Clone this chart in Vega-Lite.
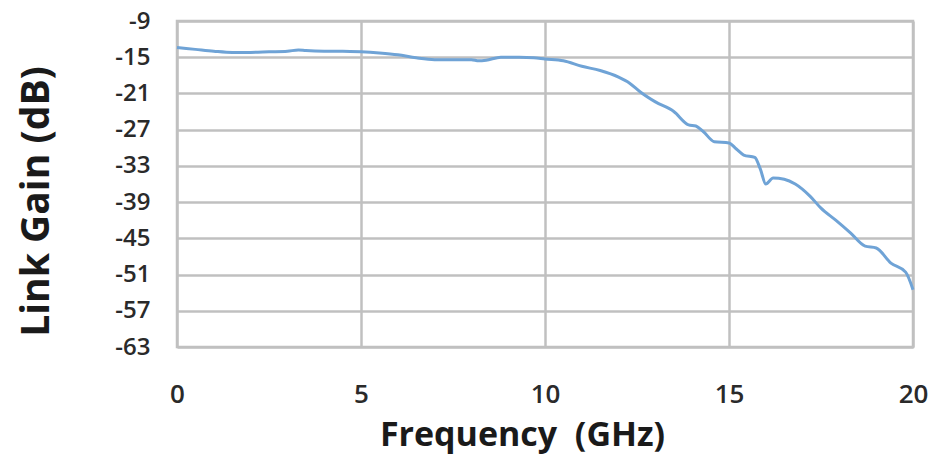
{
  "$schema": "https://vega.github.io/schema/vega-lite/v6.json",
  "autosize": "none",
  "width": 736,
  "height": 326,
  "padding": {"left": 177, "top": 21, "right": 26, "bottom": 113},
  "background": "white",
  "config": {
    "view": {"stroke": "#c0c0c0", "strokeWidth": 2.5},
    "font": "Open Sans"
  },
  "data": {
    "values": [
      {"f": 0, "g": -13.4}, {"f": 0.5, "g": -13.7}, {"f": 1, "g": -14.0}, {"f": 1.5, "g": -14.2},
      {"f": 2, "g": -14.2}, {"f": 2.5, "g": -14.1}, {"f": 3, "g": -14.0}, {"f": 3.3, "g": -13.8},
      {"f": 3.5, "g": -13.9}, {"f": 4, "g": -14.0}, {"f": 4.5, "g": -14.0}, {"f": 5, "g": -14.1},
      {"f": 5.5, "g": -14.3}, {"f": 6, "g": -14.6}, {"f": 6.5, "g": -15.1}, {"f": 7, "g": -15.4},
      {"f": 7.5, "g": -15.4}, {"f": 8, "g": -15.4}, {"f": 8.2, "g": -15.6}, {"f": 8.4, "g": -15.5},
      {"f": 8.8, "g": -15.0}, {"f": 9.3, "g": -15.0}, {"f": 9.7, "g": -15.1}, {"f": 10, "g": -15.3},
      {"f": 10.5, "g": -15.6}, {"f": 11, "g": -16.5}, {"f": 11.5, "g": -17.2}, {"f": 12, "g": -18.3},
      {"f": 12.3, "g": -19.3}, {"f": 12.6, "g": -20.8}, {"f": 13, "g": -22.4}, {"f": 13.5, "g": -24.0},
      {"f": 13.9, "g": -26.2}, {"f": 14.1, "g": -26.4}, {"f": 14.3, "g": -27.3}, {"f": 14.6, "g": -29.0},
      {"f": 15, "g": -29.2}, {"f": 15.2, "g": -30.2}, {"f": 15.4, "g": -31.2}, {"f": 15.7, "g": -31.6},
      {"f": 15.85, "g": -33.5}, {"f": 16.0, "g": -36.0}, {"f": 16.2, "g": -35.0}, {"f": 16.5, "g": -35.2},
      {"f": 16.8, "g": -36.0}, {"f": 17.2, "g": -38.0}, {"f": 17.5, "g": -40.0}, {"f": 17.9, "g": -42.0},
      {"f": 18.3, "g": -44.1}, {"f": 18.7, "g": -46.3}, {"f": 19.0, "g": -46.6}, {"f": 19.4, "g": -49.1},
      {"f": 19.8, "g": -50.6}, {"f": 20, "g": -53.5}
    ]
  },
  "mark": {"type": "line", "color": "#6fa3d6", "strokeWidth": 3, "interpolate": "monotone"},
  "encoding": {
    "x": {
      "field": "f", "type": "quantitative",
      "scale": {"domain": [0, 20], "nice": false},
      "axis": {
        "values": [0, 5, 10, 15, 20],
        "title": "Frequency\u00a0\u00a0(GHz)",
        "titleFontSize": 34, "titleFontWeight": "bold", "titleColor": "#1a1a1a",
        "titleX": 345, "titleY": 98, "titleAnchor": null, "titleAlign": "center", "titleBaseline": "alphabetic",
        "labelFontSize": 26, "labelFontWeight": 600, "labelColor": "#2a2a2a",
        "labelBaseline": "alphabetic", "labelPadding": 55,
        "labelFlush": false, "labelBound": false,
        "ticks": false, "domain": false,
        "gridColor": "#c0c0c0", "gridWidth": 2.5
      }
    },
    "y": {
      "field": "g", "type": "quantitative",
      "scale": {"domain": [-63, -9], "nice": false},
      "axis": {
        "values": [-9, -15, -21, -27, -33, -39, -45, -51, -57, -63],
        "labelExpr": "'-' + abs(datum.value)",
        "title": "Link Gain (dB)",
        "titleFontSize": 39, "titleFontWeight": "bold", "titleColor": "#1a1a1a",
        "titleX": -141, "titleY": 180, "titleAlign": "center", "titleBaseline": "middle", "titleAngle": -90,
        "labelFontSize": 24, "labelFontWeight": 600, "labelColor": "#2a2a2a", "labelPadding": 27,
        "labelFlush": false, "labelBound": false,
        "ticks": false, "domain": false,
        "gridColor": "#c0c0c0", "gridWidth": 2.5
      }
    }
  }
}
